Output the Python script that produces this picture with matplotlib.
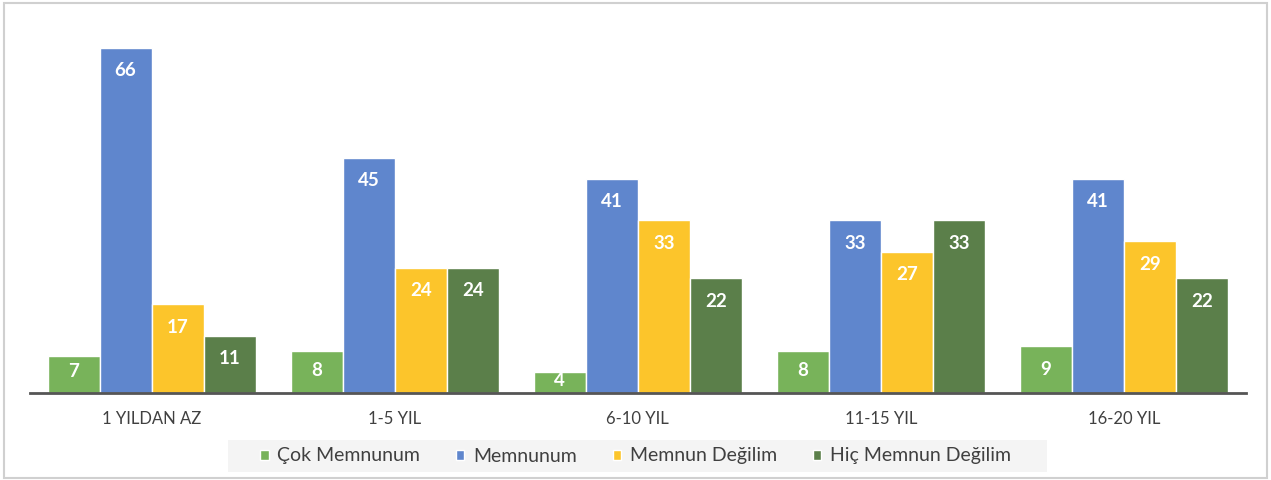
import numpy as np
import matplotlib
matplotlib.use('Agg')
import matplotlib.pyplot as plt
from matplotlib.patches import Rectangle

plt.rcParams['font.family'] = ['Lato', 'DejaVu Sans']

# data
groups = ['1 YILDAN AZ', '1-5 YIL', '6-10 YIL', '11-15 YIL', '16-20 YIL']
series = ['Çok Memnunum', 'Memnunum', 'Memnun Değilim', 'Hiç Memnun Değilim']
cok_memnun = [7, 8, 4, 8, 9]
memnun = [66, 45, 41, 33, 41]
memnun_degil = [17, 24, 33, 27, 29]
hic_memnun_degil = [11, 24, 22, 33, 22]
colors = ['#78b35a', '#5f86cd', '#fcc52b', '#5b7f4a']

fig = plt.figure(figsize=(12.71, 4.80), dpi=100)
fig.patches.append(Rectangle((0.003, 0.004), 0.994, 0.99, transform=fig.transFigure,
                             fill=False, edgecolor='#d0d0d0', lw=1.5))
# legend background strip
fig.patches.append(Rectangle((228/1271, 1-472/480), 819/1271, 32/480, transform=fig.transFigure,
                             facecolor='#f4f4f4', edgecolor='none', zorder=0))
ax = fig.add_axes([0.0236, 0.181, 0.9564, 0.763])

x = np.arange(len(groups))
w = 0.214
vals = [cok_memnun, memnun, memnun_degil, hic_memnun_degil]
for i, (nm, v) in enumerate(zip(series, vals)):
    pos = x + (i - 1.5) * w
    ax.bar(pos, v, w, color=colors[i], edgecolor='white', lw=1, label=nm, zorder=2)
    for px, val in zip(pos, v):
        ty = max(val - 4.4, min(val * 0.6, 4.4))
        ax.text(px, ty, str(val), ha='center', va='center', color='white',
                fontsize=13.5, fontweight='bold', zorder=3)

ax.set_xlim(-0.5, 4.5); ax.set_ylim(0, 70)
for s in ['top', 'right', 'left']: ax.spines[s].set_visible(False)
ax.spines['bottom'].set_color('#555555'); ax.spines['bottom'].set_linewidth(2)
ax.set_yticks([])
ax.set_xticks(x); ax.set_xticklabels(groups, fontsize=12, color='#404040')
ax.tick_params(axis='x', length=0, pad=13)

leg = fig.legend(loc='center', bbox_to_anchor=(0.5, 1-456/480), ncol=4, fontsize=14,
                 frameon=False, handlelength=0.42, handleheight=0.42, handletextpad=0.45,
                 columnspacing=1.85, borderpad=0, borderaxespad=0)
for t in leg.get_texts(): t.set_color('#404040')

fig.savefig('out.png', dpi=100)
